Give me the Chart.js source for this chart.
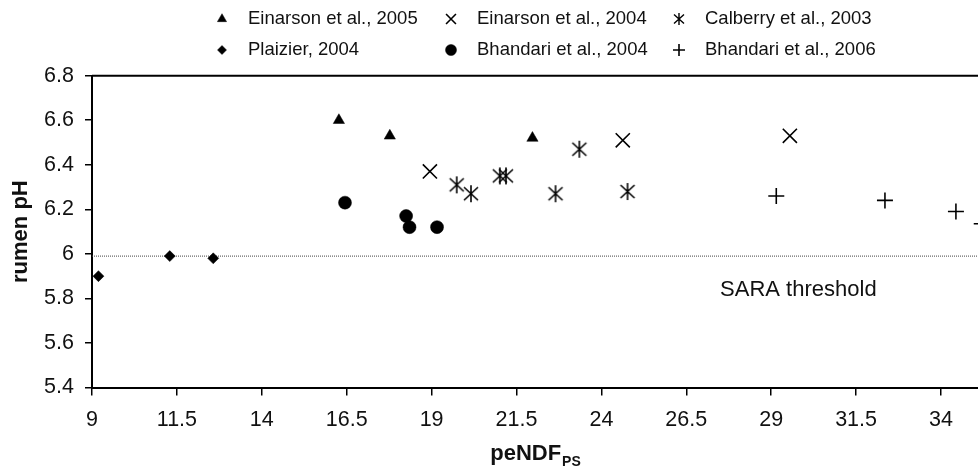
<!DOCTYPE html>
<html>
<head>
<meta charset="utf-8">
<script src="https://cdn.jsdelivr.net/npm/chart.js@4/dist/chart.umd.min.js"></script>
<style>
  html, body { margin: 0; padding: 0; background: #fff; overflow: hidden; }
  #wrap { width: 978px; height: 473px; position: relative; }
  #chart { display: block; }
</style>
</head>
<body>
<div id="wrap"><canvas id="chart"></canvas></div>
<script>
// values: [peNDF_PS, rumen pH]
const einarson2005 = [[16.27, 6.60], [17.77, 6.53], [21.97, 6.52]];
const einarson2004 = [[18.95, 6.37], [24.63, 6.51], [29.55, 6.53]];
const calberry2003 = [[19.74, 6.31], [20.16, 6.27], [21.01, 6.35], [21.19, 6.35], [22.65, 6.27], [23.35, 6.47], [24.77, 6.28]];
const plaizier2004 = [[9.19, 5.90], [11.29, 5.99], [12.57, 5.98]];
const bhandari2004 = [[16.45, 6.23], [18.25, 6.17], [18.35, 6.12], [19.16, 6.12]];
const bhandari2006 = [[29.15, 6.26], [32.35, 6.24], [34.44, 6.19], [35.2, 6.135]];

const seriesNames = ["Einarson et al., 2005", "Einarson et al., 2004", "Calberry et al., 2003",
                     "Plaizier, 2004", "Bhandari et al., 2004", "Bhandari et al., 2006"];

const xTicks = [9, 11.5, 14, 16.5, 19, 21.5, 24, 26.5, 29, 31.5, 34];
const yTicks = [5.4, 5.6, 5.8, 6, 6.2, 6.4, 6.6, 6.8];
const xMin = 9, xMax = 35.09;

const saraThreshold = 5.99;
const saraLabel = "SARA threshold";
const saraLabelAt = [29.8, 5.84];

const font = "'Liberation Sans', Arial, Helvetica, sans-serif";
Chart.defaults.font.family = font;
Chart.defaults.color = "#111";

function pts(arr) {
    return arr.map(p => ({ x: p[0], y: p[1] }))
}

// asterisk marker (X with a vertical bar), chart.js has no such style
function asterisk(hw, hh, vh, lw) {
    var c = document.createElement("canvas");
    c.width = Math.ceil(hw * 2 + 4);
    c.height = Math.ceil(vh * 2 + 4);
    var g = c.getContext("2d");
    var cx = c.width / 2, cy = c.height / 2;
    g.strokeStyle = "#000";
    g.lineWidth = lw;
    g.beginPath();
    g.moveTo(cx - hw, cy - hh); g.lineTo(cx + hw, cy + hh);
    g.moveTo(cx - hw, cy + hh); g.lineTo(cx + hw, cy - hh);
    g.moveTo(cx, cy - vh); g.lineTo(cx, cy + vh);
    g.stroke();
    return c;
}
const starBig = asterisk(7, 6.5, 8.5, 1.6);
const starSmall = asterisk(5, 4.5, 6, 1.4);

const sets = [
    { label: seriesNames[0], data: pts(einarson2005), pointStyle: "triangle", pointRadius: 6.5, backgroundColor: "#000", borderColor: "#000", borderWidth: 0.5, legendRadius: 5.3 },
    { label: seriesNames[1], data: pts(einarson2004), pointStyle: "crossRot", pointRadius: 10, backgroundColor: "#000", borderColor: "#000", borderWidth: 1.6, legendRadius: 7 },
    { label: seriesNames[2], data: pts(calberry2003), pointStyle: starBig, legendStyle: starSmall, pointRadius: 9, backgroundColor: "#000", borderColor: "#000", borderWidth: 1.6, legendRadius: 6 },
    { label: seriesNames[3], data: pts(plaizier2004), pointStyle: "rectRot", pointRadius: 5.5, backgroundColor: "#000", borderColor: "#000", borderWidth: 0.5, legendRadius: 4.5 },
    { label: seriesNames[4], data: pts(bhandari2004), pointStyle: "circle", pointRadius: 6.5, backgroundColor: "#000", borderColor: "#000", borderWidth: 0.5, legendRadius: 5.5 },
    { label: seriesNames[5], data: pts(bhandari2006), pointStyle: "cross", pointRadius: 8, backgroundColor: "#000", borderColor: "#000", borderWidth: 1.6, legendRadius: 6 }
];
sets.forEach(s => { s.showLine = false; s.pointHoverRadius = s.pointRadius });

sets.push({
    type: "line",
    label: "threshold",
    data: [{ x: xMin, y: saraThreshold }, { x: xMax, y: saraThreshold }],
    borderColor: "#444",
    borderWidth: 1,
    borderDash: [1, 1],
    pointRadius: 0,
    fill: false
});

const legendCols = [222, 451, 679];
const legendRows = [19, 50];

const decor = {
    id: "decor",
    afterDraw(chart) {
        var ctx = chart.ctx, a = chart.chartArea;
        var xs = chart.scales.x, ys = chart.scales.y;
        ctx.save();

        // frame line on top of the plot
        ctx.strokeStyle = "#000";
        ctx.lineWidth = 2;
        ctx.beginPath();
        ctx.moveTo(a.left, a.top);
        ctx.lineTo(a.right, a.top);
        ctx.stroke();

        // threshold label
        ctx.fillStyle = "#111";
        ctx.font = "22px " + font;
        ctx.textAlign = "center";
        ctx.textBaseline = "middle";
        ctx.fillText(saraLabel, xs.getPixelForValue(saraLabelAt[0]), ys.getPixelForValue(saraLabelAt[1]));

        // x title with subscript
        ctx.textAlign = "left";
        ctx.textBaseline = "alphabetic";
        ctx.font = "bold 22px " + font;
        var w1 = ctx.measureText("peNDF").width;
        ctx.font = "bold 14px " + font;
        var w2 = ctx.measureText("PS").width;
        var tx = (a.left + a.right) / 2 - (w1 + w2) / 2;
        ctx.font = "bold 22px " + font;
        ctx.fillText("peNDF", tx, 460);
        ctx.font = "bold 14px " + font;
        ctx.fillText("PS", tx + w1 + 1, 466);

        // legend in a 3 x 2 grid
        chart.data.datasets.slice(0, 6).forEach((ds, i) => {
            var cx = legendCols[i % 3], cy = legendRows[Math.floor(i / 3)];
            ctx.fillStyle = "#000";
            ctx.strokeStyle = "#000";
            ctx.lineWidth = ds.borderWidth;
            Chart.helpers.drawPoint(ctx, {
                pointStyle: ds.legendStyle || ds.pointStyle,
                radius: ds.legendRadius,
                rotation: 0,
                borderWidth: ds.borderWidth
            }, cx, cy);
            ctx.fillStyle = "#111";
            ctx.font = "18.5px " + font;
            ctx.textAlign = "left";
            ctx.textBaseline = "middle";
            ctx.fillText(ds.label, cx + 26, cy);
        });

        ctx.restore();
    }
};

const fmt = v => String(Math.round(v * 10) / 10);

new Chart(document.getElementById("chart"), {
    type: "scatter",
    data: { datasets: sets },
    plugins: [decor],
    options: {
        responsive: true,
        maintainAspectRatio: false,
        animation: false,
        layout: { autoPadding: false, padding: { top: 75.7, right: 0, left: 0, bottom: 0 } },
        plugins: { legend: { display: false }, tooltip: { enabled: false } },
        scales: {
            x: {
                type: "linear",
                min: xMin,
                max: xMax,
                afterBuildTicks: s => { s.ticks = xTicks.map(v => ({ value: v })) },
                afterFit: s => { s.height = 85.5; s.paddingLeft = 0; s.paddingRight = 0 },
                ticks: { callback: fmt, padding: 12, font: { size: 21.5 }, color: "#111", maxRotation: 0, autoSkip: false },
                grid: { drawOnChartArea: false, drawTicks: true, tickLength: 8, color: "#000", lineWidth: 1.5 },
                border: { display: true, color: "#000", width: 2 }
            },
            y: {
                type: "linear",
                min: 5.4,
                max: 6.8,
                afterBuildTicks: s => { s.ticks = yTicks.map(v => ({ value: v })) },
                afterFit: s => { s.width = 92; s.paddingTop = 0; s.paddingBottom = 0 },
                ticks: { callback: fmt, padding: 11, font: { size: 21.5 }, color: "#111" },
                grid: { drawOnChartArea: false, drawTicks: true, tickLength: 7, color: "#000", lineWidth: 1.5 },
                border: { display: true, color: "#000", width: 2 },
                title: { display: true, text: "rumen pH", font: { size: 22, weight: "bold" }, color: "#111", padding: { top: 8, bottom: 0 } }
            }
        }
    }
});
</script>
</body>
</html>
